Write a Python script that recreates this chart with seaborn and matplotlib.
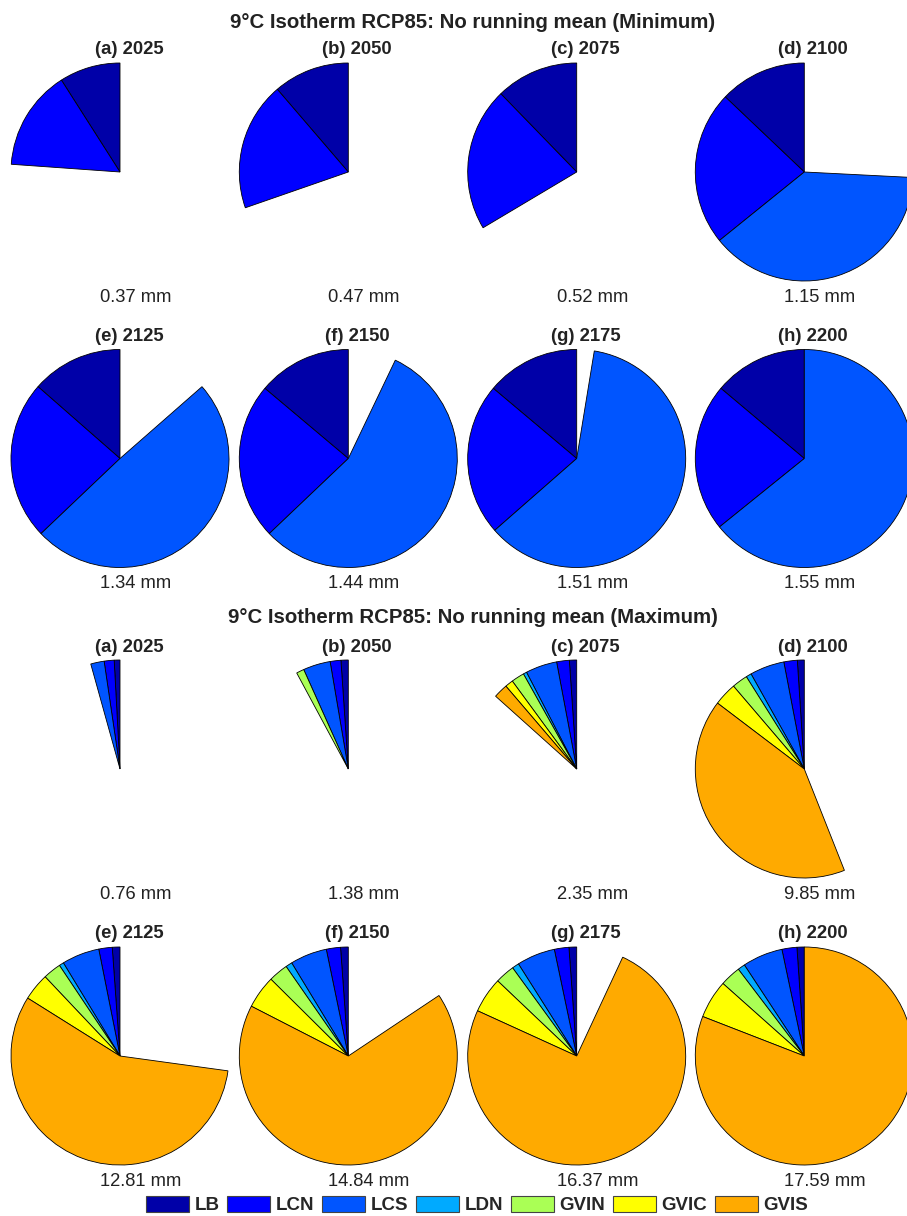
import numpy as np
import matplotlib
matplotlib.use("Agg")
import matplotlib.pyplot as plt
from matplotlib.patches import Patch
import seaborn as sns

# components and colours
parts = ["LB", "LCN", "LCS", "LDN", "GVIN", "GVIC", "GVIS"]
part_colors = ["#0000A8", "#0000FF", "#0055FF", "#00AAFF", "#AAFF55", "#FFFF00", "#FFAA00"]

panels = ["(a) 2025", "(b) 2050", "(c) 2075", "(d) 2100",
          "(e) 2125", "(f) 2150", "(g) 2175", "(h) 2200"]

# Minimum scenario (mm), only LB / LCN / LCS present
min_totals = [0.37, 0.47, 0.52, 1.15, 1.34, 1.44, 1.51, 1.55]
min_LB = [0.14, 0.175, 0.19, 0.20, 0.21, 0.215, 0.215, 0.215]
min_LCN = [0.23, 0.295, 0.33, 0.355, 0.365, 0.36, 0.35, 0.34]
min_LCS = [0.0, 0.0, 0.0, 0.595, 0.765, 0.865, 0.945, 0.995]

# Maximum scenario (mm)
max_totals = [0.76, 1.38, 2.35, 9.85, 12.81, 14.84, 16.37, 17.59]
max_LB = [0.15, 0.19, 0.19, 0.18, 0.20, 0.20, 0.20, 0.19]
max_LCN = [0.26, 0.28, 0.33, 0.35, 0.35, 0.37, 0.38, 0.39]
max_LCS = [0.35, 0.71, 0.82, 0.90, 0.98, 0.96, 1.00, 1.05]
max_LDN = [0.0, 0.0, 0.09, 0.14, 0.12, 0.17, 0.18, 0.19]
max_GVIN = [0.0, 0.20, 0.34, 0.41, 0.47, 0.51, 0.51, 0.54]
max_GVIC = [0.0, 0.0, 0.21, 0.60, 0.71, 0.86, 0.93, 1.00]
max_GVIS = [0.0, 0.0, 0.37, 7.27, 9.98, 11.77, 13.17, 14.23]

min_parts = [min_LB, min_LCN, min_LCS, [0] * 8, [0] * 8, [0] * 8, [0] * 8]
max_parts = [max_LB, max_LCN, max_LCS, max_LDN, max_GVIN, max_GVIC, max_GVIS]

sns.set_theme(style="white")
plt.rcParams['font.family'] = ['Liberation Sans', 'DejaVu Sans']

W, H = 907, 1216
fig = plt.figure(figsize=(W / 100, H / 100), dpi=100)

R = 109                       # pie radius in px
col_x = [120, 348.3, 576.7, 804.3]
row_y = [172, 458.5, 769, 1056]
S = 228                       # axes box in px


def px(x, y):
    return x / W, 1 - y / H


def draw_panel(parts_vals, totals, rows):
    vmax = max(totals)
    for k in range(8):
        cx = col_x[k % 4]
        cy = row_y[rows[k // 4]]
        l, b = px(cx - S / 2, cy + S / 2)
        ax = fig.add_axes([l, b, S / W, S / H])
        vals = np.array([p[k] for p in parts_vals]) / vmax
        keep = vals > 0
        cols = [c for c, m in zip(part_colors, keep) if m]
        wedges, _ = ax.pie(vals[keep], colors=cols, normalize=False, startangle=90,
                           counterclock=True, radius=1,
                           wedgeprops=dict(edgecolor="black", linewidth=0.6))
        for w in wedges:
            w.set_clip_on(False)
        lim = S / 2 / R
        ax.set_xlim(-lim, lim)
        ax.set_ylim(-lim, lim)
        ax.axis("off")
        fig.text(*px(cx + 9, cy - 117.5), panels[k], ha="center", va="baseline",
                 fontsize=13.3, fontweight="bold", color="#222222")
        fig.text(*px(cx - 20, cy + 130), f"{totals[k]:.2f} mm", ha="left",
                 va="baseline", fontsize=13.2, color="#222222")


draw_panel(min_parts, min_totals, [0, 1])
draw_panel(max_parts, max_totals, [2, 3])

fig.text(*px(473, 28.3), "9°C Isotherm RCP85: No running mean (Minimum)",
         ha="center", va="baseline", fontsize=14.7, fontweight="bold", color="#222222")
fig.text(*px(473, 623.3), "9°C Isotherm RCP85: No running mean (Maximum)",
         ha="center", va="baseline", fontsize=14.7, fontweight="bold", color="#222222")

handles = [Patch(facecolor=c, edgecolor="#444444", linewidth=0.8, label=n)
           for n, c in zip(parts, part_colors)]
leg = fig.legend(handles=handles, loc="center", bbox_to_anchor=px(477, 1205),
                 ncol=7, frameon=False, prop=dict(weight="bold", size=13.5),
                 handlelength=2.3, handleheight=1.0, handletextpad=0.3,
                 columnspacing=0.4, borderpad=0, borderaxespad=0)

fig.savefig("out.png", dpi=100)
